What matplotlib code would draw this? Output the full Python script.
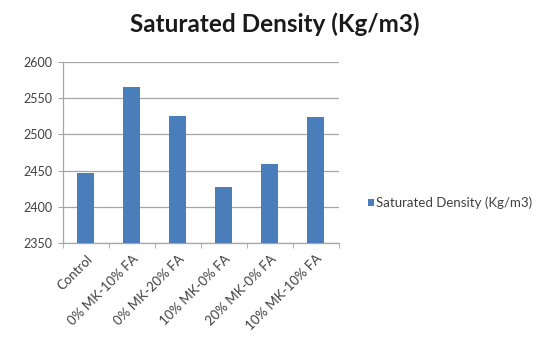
import matplotlib
matplotlib.use("Agg")
import matplotlib.pyplot as plt

categories = ["Control", "0% MK-10% FA", "0% MK-20% FA", "10% MK-0% FA",
              "20% MK-0% FA", "10% MK-10% FA"]
density = [2447, 2565, 2526, 2428, 2459, 2524]
y_ticks = [2350, 2400, 2450, 2500, 2550, 2600]
series_name = "Saturated Density (Kg/m3)"

plt.rcParams["font.family"] = ["Lato", "DejaVu Sans"]

W, H = 539, 347
fig = plt.figure(figsize=(W / 100, H / 100), dpi=100)
ax = fig.add_axes([63 / W, 1 - 243 / H, (338.5 - 63) / W, (243 - 62) / H])

bar_color = "#4a7ebb"
x = list(range(len(categories)))
bars = ax.bar(x, density, width=0.37, color=bar_color, zorder=3, label=series_name)

ax.set_ylim(2350, 2600)
ax.set_xlim(-0.5, len(categories) - 0.5)
ax.set_yticks(y_ticks)
ax.set_yticklabels([str(v) for v in y_ticks], fontsize=9, color="#404040")
ax.yaxis.grid(True, color="#a6a6a6", linewidth=0.9, zorder=0)
ax.tick_params(axis="y", length=3.6, color="#a6a6a6", pad=4)

ax.set_xticks(x)
ax.set_xticklabels(categories, rotation=45, ha="right", rotation_mode="anchor",
                   fontsize=9.5, color="#404040")
ax.tick_params(axis="x", length=0, pad=7)
# category separator ticks
ax.set_xticks([i - 0.5 for i in range(len(categories) + 1)], minor=True)
ax.tick_params(axis="x", which="minor", length=3.6, color="#a6a6a6")

for side in ["top", "right"]:
    ax.spines[side].set_visible(False)
for side in ["left", "bottom"]:
    ax.spines[side].set_color("#a6a6a6")
    ax.spines[side].set_linewidth(0.9)

fig.text(275 / W, 1 - 24 / H, "Saturated Density (Kg/m3)", ha="center", va="center",
         fontsize=17.5, fontweight="bold", color="#1a1a1a")

leg = fig.legend(handles=[bars], labels=[series_name], loc="center left",
                 bbox_to_anchor=(356 / W, 1 - 203 / H), frameon=False,
                 fontsize=9.5, handlelength=0.5, handleheight=0.5, handletextpad=0.15,
                 labelcolor="#404040")

fig.savefig("out.png", dpi=100)
